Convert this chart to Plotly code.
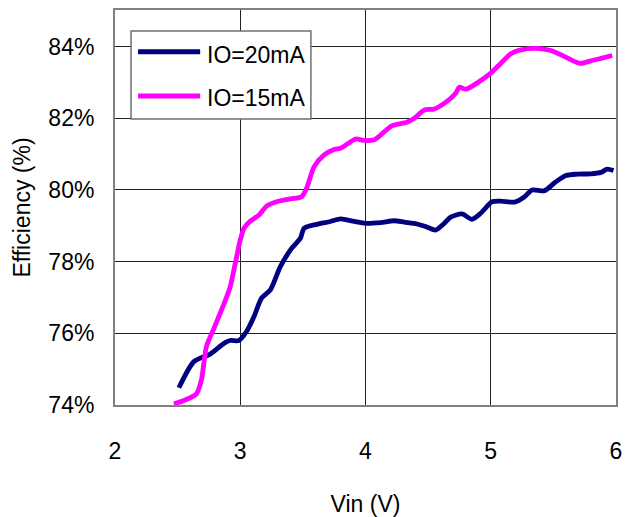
import plotly.graph_objects as go

vin_20 = [2.51, 2.63, 2.76, 2.87, 2.92, 2.99, 3.05, 3.11, 3.17, 3.24, 3.32, 3.41, 3.48, 3.51,
          3.61, 3.72, 3.80, 3.91, 4.00, 4.12, 4.23, 4.31, 4.41, 4.48, 4.56, 4.63, 4.68, 4.77,
          4.85, 4.92, 5.01, 5.08, 5.19, 5.27, 5.33, 5.43, 5.51, 5.60, 5.69, 5.80, 5.88, 5.93, 5.98]
eff_20 = [74.48, 75.21, 75.42, 75.72, 75.80, 75.80, 76.05, 76.47, 76.98, 77.21, 77.86, 78.37, 78.65, 78.93,
          79.04, 79.12, 79.19, 79.12, 79.07, 79.09, 79.14, 79.10, 79.05, 78.98, 78.88, 79.07, 79.24, 79.33,
          79.18, 79.35, 79.67, 79.69, 79.66, 79.81, 80.00, 79.98, 80.20, 80.40, 80.44, 80.45, 80.49, 80.58, 80.54]

vin_15 = [2.47, 2.56, 2.65, 2.69, 2.73, 2.79, 2.87, 2.92, 2.96, 3.00, 3.03, 3.08, 3.15, 3.21, 3.29,
          3.40, 3.49, 3.53, 3.59, 3.67, 3.75, 3.80, 3.92, 3.99, 4.07, 4.12, 4.21, 4.33, 4.39, 4.47,
          4.55, 4.65, 4.72, 4.75, 4.80, 4.89, 5.00, 5.08, 5.16, 5.24, 5.37, 5.48, 5.59, 5.71, 5.80, 5.88, 5.97]
eff_15 = [74.03, 74.14, 74.31, 74.70, 75.63, 76.14, 76.82, 77.30, 77.95, 78.60, 78.93, 79.13, 79.30, 79.55, 79.67,
          79.75, 79.81, 80.05, 80.65, 80.98, 81.13, 81.16, 81.42, 81.38, 81.40, 81.53, 81.79, 81.89, 82.00, 82.23,
          82.26, 82.47, 82.70, 82.87, 82.81, 82.98, 83.26, 83.53, 83.80, 83.91, 83.95, 83.89, 83.72, 83.53, 83.60, 83.67, 83.75]

series_names = ["IO=20mA", "IO=15mA"]
series_colors = ["#000080", "#FF00FF"]

x_ticks = [2, 3, 4, 5, 6]
y_ticks = [74, 76, 78, 80, 82, 84]
y_labels = ["74%", "76%", "78%", "80%", "82%", "84%"]

FONT = "Liberation Sans, Arial, sans-serif"
FS = 23

fig = go.Figure()
fig.add_trace(go.Scatter(x=vin_20, y=eff_20, mode="lines", name=series_names[0],
                         line=dict(color=series_colors[0], width=4.8, shape="spline", smoothing=0.7)))
fig.add_trace(go.Scatter(x=vin_15, y=eff_15, mode="lines", name=series_names[1],
                         line=dict(color=series_colors[1], width=4.8, shape="spline", smoothing=0.7)))

# Legend box drawn to match the reference's wide legend swatches
box = dict(x0=0.032, x1=0.391, y0=0.724, y1=0.947)
line_x = (0.046, 0.170)
row_y_line = [0.894, 0.782]
row_y_text = [0.887, 0.776]
shapes = [dict(type="rect", xref="paper", yref="paper", layer="above",
               fillcolor="white", line=dict(color="#707070", width=1.5), **box)]
annotations = []
for name, col, yl, yt in zip(series_names, series_colors, row_y_line, row_y_text):
    shapes.append(dict(type="line", xref="paper", yref="paper", layer="above",
                       x0=line_x[0], x1=line_x[1], y0=yl, y1=yl,
                       line=dict(color=col, width=5)))
    annotations.append(dict(text=name, xref="paper", yref="paper", x=0.180, y=yt,
                            xanchor="left", yanchor="middle", showarrow=False,
                            font=dict(family=FONT, size=FS, color="black")))

fig.update_layout(
    width=625, height=517,
    margin=dict(l=115, r=9, t=10, b=112, autoexpand=False),
    paper_bgcolor="white", plot_bgcolor="white",
    font=dict(family=FONT, size=FS, color="black"),
    showlegend=False,
    shapes=shapes, annotations=annotations,
)
fig.update_xaxes(range=[2, 6], tickvals=x_ticks, ticktext=[str(v) for v in x_ticks],
                 showgrid=True, gridcolor="#222222", gridwidth=1,
                 showline=True, linecolor="#808080", linewidth=2, mirror=True,
                 ticks="", ticklabelstandoff=24, zeroline=False, automargin=False,
                 ticklabeloverflow="allow",
                 title=dict(text="Vin (V)", standoff=37, font=dict(size=FS)),
                 tickfont=dict(size=FS))
fig.update_yaxes(range=[74, 85.02], tickvals=y_ticks, ticktext=y_labels,
                 showgrid=True, gridcolor="#222222", gridwidth=1,
                 showline=True, linecolor="#808080", linewidth=2, mirror=True,
                 ticks="", ticklabelstandoff=14, zeroline=False, automargin=False,
                 title=dict(text="Efficiency (%)", standoff=11, font=dict(size=FS)),
                 tickfont=dict(size=FS))

fig.write_html("out.html",
               config={"displayModeBar": False, "staticPlot": True},
               post_script="document.body.style.margin='0';document.body.style.overflow='hidden';")
